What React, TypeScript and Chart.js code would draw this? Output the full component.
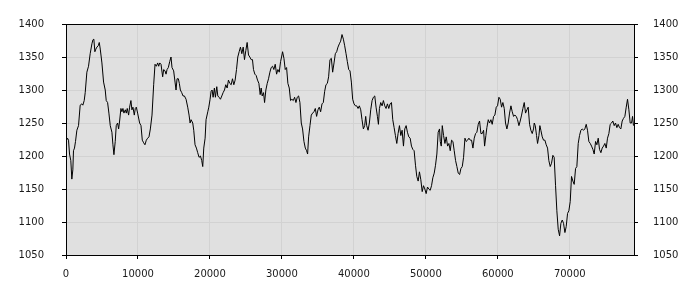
import React, { useEffect, useRef } from "react";
import { Chart, registerables } from "chart.js";

Chart.register(...registerables);

const xValues: number[] = [
  0, 210, 350, 490, 670, 810, 950, 1040, 1180, 1320, 1510, 1740, 1970, 2200, 2340, 2530, 2670, 2900, 3130, 3360, 3600, 3740, 3870, 4010, 4150, 4290, 4480, 4620, 4760, 4990, 5220, 5450, 5590, 5780, 5960, 6150, 6380, 6520, 6660, 6840, 6980, 7170, 7310, 7450, 7630, 7770, 7910, 8050, 8240, 8380, 8510, 8700, 8840, 9020, 9160, 9300, 9490, 9630, 9770, 9950, 10230, 10420, 10600, 10790, 10970, 11160, 11350, 11530, 11720, 11950, 12180, 12370, 12550, 12740,
  12880, 13020, 13200, 13430, 13570, 13760, 13900, 14040, 14220, 14410, 14590, 14730, 14960, 15150, 15290, 15430, 15610, 15750, 15890, 16080, 16260, 16450, 16680, 16910, 17100, 17240, 17380, 17610, 17750, 17930, 18120, 18300, 18490, 18680, 18860, 19000, 19140, 19330, 19460, 19700, 19840, 20020, 20160, 20300, 20440, 20620, 20760, 20950, 21090, 21270, 21460, 21650, 21830, 22020, 22200, 22390, 22570, 22760, 22950, 23130, 23320, 23500, 23690, 23870, 24060, 24240, 24430, 24620, 24800, 24990, 25170, 25360, 25540, 25730,
  25910, 26050, 26240, 26420, 26610, 26800, 26980, 27120, 27260, 27450, 27590, 27770, 27960, 28140, 28330, 28510, 28700, 28880, 29070, 29260, 29440, 29630, 29810, 29950, 30090, 30280, 30460, 30650, 30830, 31020, 31200, 31390, 31580, 31760, 31950, 32130, 32320, 32500, 32690, 32870, 33060, 33250, 33430, 33570, 33710, 33900, 34080, 34270, 34450, 34640, 34820, 35010, 35190, 35380, 35570, 35750, 35940, 36120, 36310, 36490, 36680, 36870, 37050, 37240, 37420, 37610, 37790, 37980, 38160, 38350, 38540, 38720, 38910,
  38950, 39090, 39280, 39460, 39650, 39830, 40020, 40210, 40390, 40580, 40760, 40950, 41130, 41320, 41500, 41640, 41780, 41970, 42150, 42340, 42530, 42710, 42900, 43080, 43270, 43410, 43550, 43730, 43920, 44100, 44290, 44470, 44660, 44850, 45030, 45220, 45400, 45590, 45770, 45960, 46140, 46330, 46520, 46700, 46890, 47070, 47260, 47440, 47630, 47820, 48000, 48190, 48370, 48560, 48740, 48930, 49110, 49300, 49490, 49670, 49860, 50040, 50230, 50410, 50600, 50790, 50970, 51160, 51340, 51530, 51710, 51900,
  52000, 52140, 52280, 52460, 52650, 52830, 53020, 53200, 53390, 53570, 53760, 53940, 54130, 54310, 54500, 54690, 54870, 55060, 55240, 55430, 55610, 55800, 55980, 56170, 56350, 56540, 56720, 56910, 57090, 57280, 57460, 57650, 57830, 58020, 58160, 58340, 58480, 58670, 58850, 59040, 59220, 59410, 59590, 59780, 59960, 60150, 60330, 60520, 60700, 60890, 61070, 61260, 61440, 61630, 61820, 62000, 62190, 62370, 62560, 62740, 62930, 63110, 63300, 63480, 63670, 63850, 64040, 64220, 64410, 64590, 64780, 64960,
  65060, 65200, 65380, 65520, 65710, 65840, 65980, 66170, 66350, 66540, 66720, 66910, 67090, 67280, 67460, 67650, 67830, 68020, 68200, 68390, 68580, 68760, 68950, 69130, 69320, 69500, 69690, 69870, 70060, 70240, 70430, 70610, 70800, 70980, 71170, 71350, 71540, 71720, 71910, 72090, 72280, 72460, 72650, 72840, 73020, 73210, 73390, 73580, 73760, 73950, 74130, 74320, 74500, 74690, 74870, 75060, 75240, 75430, 75610, 75800, 75980, 76170, 76350, 76540, 76720, 76910, 77090, 77280, 77460, 77650, 77840, 78020, 78210, 78390, 78580, 78720, 78850,
];

const yValues: number[] = [
  1222, 1227, 1224, 1203, 1193, 1165, 1179, 1208, 1212, 1222, 1239, 1246, 1277, 1279, 1277, 1284, 1296, 1327, 1336, 1355, 1370, 1376, 1377, 1358, 1362, 1365, 1367, 1372, 1362, 1341, 1312, 1300, 1284, 1281, 1265, 1246, 1236, 1217, 1202, 1222, 1246, 1250, 1241, 1253, 1272, 1267, 1272, 1265, 1270, 1265, 1272, 1262, 1274, 1284, 1270, 1274, 1262, 1272, 1274, 1265, 1250, 1246, 1224, 1220, 1217, 1224, 1227, 1229, 1241, 1262, 1308, 1339, 1336, 1341,
  1336, 1341, 1339, 1320, 1331, 1329, 1324, 1331, 1334, 1343, 1350, 1334, 1329, 1312, 1300, 1317, 1317, 1310, 1300, 1296, 1291, 1291, 1286, 1274, 1262, 1250, 1255, 1250, 1239, 1217, 1212, 1205, 1198, 1200, 1193, 1184, 1212, 1227, 1255, 1267, 1274, 1286, 1298, 1300, 1289, 1303, 1289, 1305, 1291, 1289, 1286, 1291, 1296, 1300, 1308, 1303, 1315, 1310, 1308, 1317, 1308, 1315, 1331, 1350, 1358, 1365, 1355, 1365, 1346, 1360, 1372, 1353, 1350, 1346,
  1346, 1331, 1324, 1322, 1315, 1310, 1293, 1303, 1291, 1296, 1281, 1300, 1310, 1317, 1327, 1334, 1336, 1331, 1339, 1324, 1331, 1327, 1343, 1350, 1358, 1348, 1331, 1334, 1310, 1303, 1284, 1286, 1284, 1289, 1281, 1289, 1291, 1281, 1250, 1241, 1222, 1212, 1208, 1203, 1229, 1246, 1262, 1265, 1267, 1272, 1260, 1270, 1274, 1267, 1279, 1281, 1298, 1308, 1310, 1320, 1346, 1348, 1327, 1341, 1355, 1358, 1365, 1370, 1374, 1384, 1377, 1367, 1355,
  1355, 1343, 1331, 1329, 1312, 1286, 1279, 1276, 1276, 1272, 1276, 1270, 1255, 1241, 1246, 1260, 1246, 1239, 1250, 1270, 1284, 1289, 1291, 1274, 1260, 1248, 1272, 1281, 1276, 1284, 1276, 1272, 1279, 1272, 1279, 1281, 1255, 1243, 1231, 1219, 1234, 1246, 1231, 1239, 1215, 1241, 1246, 1236, 1229, 1227, 1215, 1210, 1208, 1186, 1169, 1162, 1176, 1164, 1146, 1155, 1150, 1143, 1153, 1150, 1148, 1155, 1167, 1174, 1186, 1203, 1236, 1241,
  1222, 1215, 1246, 1231, 1219, 1229, 1215, 1219, 1208, 1224, 1222, 1208, 1193, 1184, 1174, 1172, 1181, 1184, 1198, 1227, 1222, 1224, 1227, 1224, 1224, 1212, 1227, 1234, 1236, 1248, 1253, 1234, 1234, 1239, 1215, 1231, 1243, 1255, 1250, 1255, 1248, 1260, 1262, 1274, 1276, 1289, 1286, 1274, 1281, 1272, 1250, 1241, 1250, 1265, 1276, 1267, 1260, 1262, 1260, 1255, 1246, 1253, 1262, 1272, 1281, 1265, 1270, 1274, 1248, 1239, 1234, 1241,
  1250, 1246, 1231, 1219, 1231, 1246, 1239, 1229, 1224, 1224, 1217, 1212, 1193, 1184, 1189, 1201, 1198, 1155, 1117, 1089, 1079, 1098, 1103, 1098, 1084, 1093, 1113, 1117, 1131, 1169, 1162, 1157, 1181, 1184, 1219, 1231, 1239, 1241, 1239, 1241, 1248, 1239, 1222, 1219, 1215, 1210, 1203, 1222, 1217, 1227, 1210, 1205, 1212, 1215, 1219, 1212, 1227, 1234, 1248, 1250, 1253, 1246, 1250, 1243, 1248, 1243, 1241, 1253, 1257, 1260, 1274, 1286, 1270, 1250, 1250, 1260, 1246,
];

const xTickValues: number[] = [0, 10000, 20000, 30000, 40000, 50000, 60000, 70000];
const yTickValues: number[] = [1050, 1100, 1150, 1200, 1250, 1300, 1350, 1400];
const xMin = 0;
const xMax = 78920;
const yMin = 1050;
const yMax = 1400;

const tickFont = { family: "'DejaVu Sans', sans-serif", size: 10 };
const textColor = "#1a1a1a";
const gridColor = "#d2d2d2";

const framePlugin = {
  id: "frame",
  beforeDraw(chart: any) {
    const { ctx, chartArea } = chart;
    const { left, top, right, bottom } = chartArea;
    ctx.save();
    ctx.fillStyle = "#e0e0e0";
    ctx.fillRect(left, top, right - left, bottom - top);
    ctx.restore();
  },
  afterDraw(chart: any) {
    const { ctx, chartArea } = chart;
    const { left, top, right } = chartArea;
    ctx.save();
    ctx.strokeStyle = "#000";
    ctx.lineWidth = 1;
    ctx.beginPath();
    ctx.moveTo(left, top + 0.5);
    ctx.lineTo(right + 1, top + 0.5);
    ctx.stroke();
    ctx.restore();
  },
};

const setTicks = (values: number[]) => (s: any) => {
  s.ticks = values.map((v) => ({ value: v }));
};

export default function App() {
  const canvasRef = useRef<HTMLCanvasElement | null>(null);

  useEffect(() => {
    const canvas = canvasRef.current;
    if (!canvas) return;
    const points = xValues.map((x, i) => ({ x, y: yValues[i] }));
    const fmt = (v: any) => String(v);
    const chart = new Chart(canvas, {
      type: "line",
      data: {
        datasets: [
          {
            data: points,
            borderColor: "#000",
            borderWidth: 1,
            pointRadius: 0,
            tension: 0,
            fill: false,
            yAxisID: "y",
          },
        ],
      },
      options: {
        animation: false,
        responsive: false,
        devicePixelRatio: 1,
        parsing: false as any,
        layout: { padding: { top: 10, left: 0, right: 0, bottom: 0 } },
        plugins: { legend: { display: false }, tooltip: { enabled: false } },
        scales: {
          x: {
            type: "linear",
            min: xMin,
            max: xMax,
            afterBuildTicks: setTicks(xTickValues),
            afterFit: (s: any) => {
              s.height = 45;
            },
            ticks: {
              autoSkip: false,
              maxRotation: 0,
              font: tickFont,
              color: textColor,
              padding: 9,
              callback: fmt,
            },
            grid: { color: gridColor, tickColor: "#000", tickLength: 4 },
            border: { color: "#000", width: 1 },
          },
          y: {
            type: "linear",
            position: "left",
            min: yMin,
            max: yMax,
            afterBuildTicks: setTicks(yTickValues),
            afterFit: (s: any) => {
              s.width = 66;
            },
            ticks: {
              font: tickFont,
              color: textColor,
              padding: 18,
              callback: fmt,
            },
            grid: { color: gridColor, tickColor: "#000", tickLength: 4 },
            border: { color: "#000", width: 1 },
          },
          y2: {
            type: "linear",
            position: "right",
            min: yMin,
            max: yMax,
            afterBuildTicks: setTicks(yTickValues),
            afterFit: (s: any) => {
              s.width = 66;
            },
            ticks: {
              font: tickFont,
              color: textColor,
              padding: 15,
              callback: fmt,
            },
            grid: { drawOnChartArea: false, color: gridColor, tickColor: "#000", tickLength: 4 },
            border: { color: "#000", width: 1 },
          },
        },
      },
      plugins: [framePlugin],
    });
    return () => chart.destroy();
  }, []);

  return (
    <div style={{ position: "fixed", left: 0, top: 0, width: 700, height: 300, background: "#fff" }}>
      <canvas ref={canvasRef} width={700} height={300} style={{ display: "block" }} />
    </div>
  );
}
